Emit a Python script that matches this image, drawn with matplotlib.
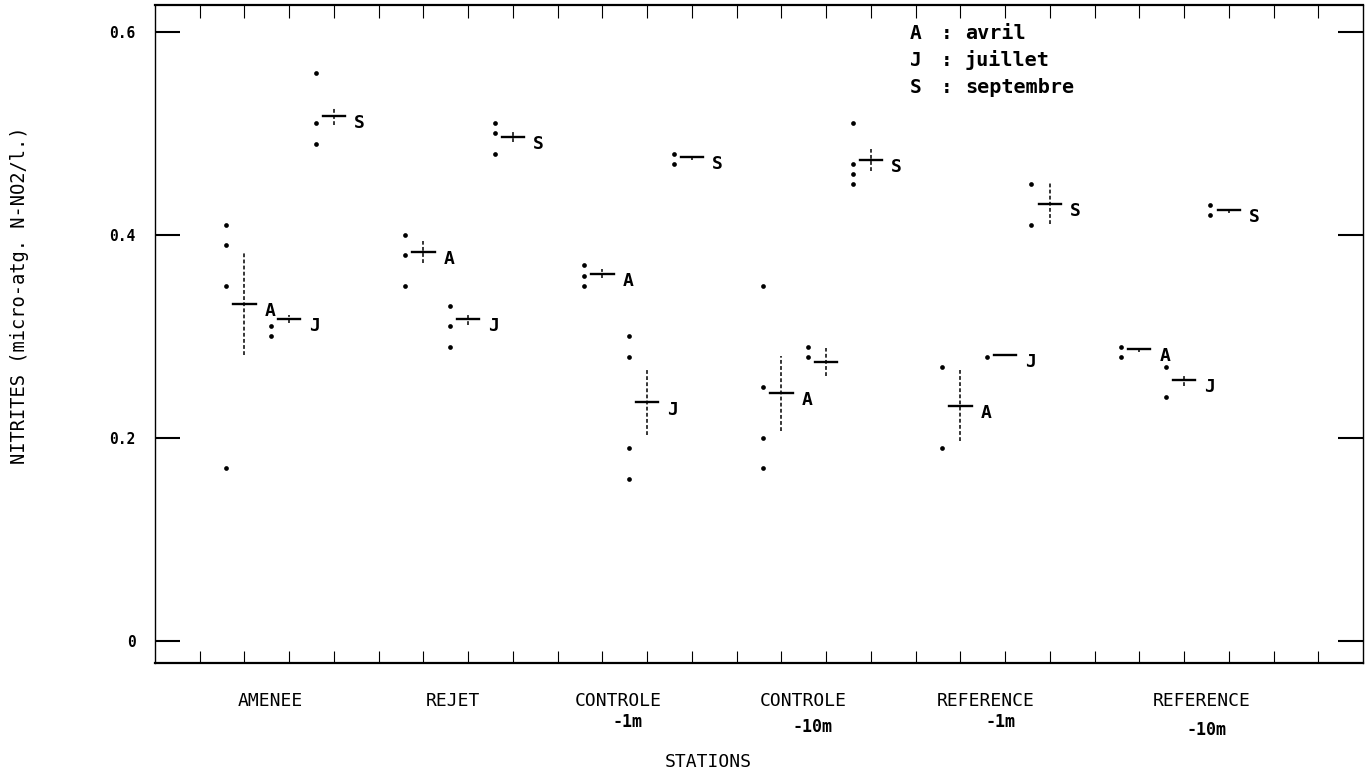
"""
Nitrites par station et par campagne (avril, juillet, septembre)
valeurs individuelles, moyenne et erreur standard
"""

import matplotlib.pyplot as plt
import numpy as np

# stations (two text lines) and campaigns
stations = ['AMENEE', 'REJET', 'CONTROLE', 'CONTROLE', 'REFERENCE', 'REFERENCE']
depths = ['', '', '-1m', '-10m', '-1m', '-10m']
months = ['A', 'J', 'S']
month_names = ['avril', 'juillet', 'septembre']

# individual samples (micro-atg. N-NO2/l.)
samples_A = [[0.41, 0.39, 0.35, 0.17], [0.40, 0.38, 0.35], [0.37, 0.36, 0.35],
             [0.35, 0.25, 0.20, 0.17], [0.27, 0.19], [0.29, 0.28]]
samples_J = [[0.31, 0.30], [0.33, 0.31, 0.29], [0.30, 0.28, 0.19, 0.16],
             [0.29, 0.28], [0.28], [0.27, 0.24]]
samples_S = [[0.56, 0.51, 0.49], [0.51, 0.50, 0.48], [0.48, 0.47],
             [0.51, 0.47, 0.46, 0.45], [0.45, 0.41], [0.43, 0.42]]

# means and standard errors
mean_A = [0.332, 0.383, 0.362, 0.244, 0.232, 0.288]
mean_J = [0.317, 0.317, 0.235, 0.275, 0.282, 0.257]
mean_S = [0.517, 0.497, 0.477, 0.474, 0.431, 0.425]
err_A = [0.050, 0.011, 0.004, 0.037, 0.035, 0.003]
err_J = [0.004, 0.006, 0.032, 0.014, 0.0, 0.006]
err_S = [0.009, 0.005, 0.003, 0.011, 0.020, 0.003]
# letter printed next to the mean? (missing on one group in the original)
labelled_J = [True, True, True, False, True, True]

samples = [samples_A, samples_J, samples_S]
means = [mean_A, mean_J, mean_S]
errs = [err_A, err_J, err_S]
labelled = [[True] * 6, labelled_J, [True] * 6]

# layout of the station names under the axis
name_x = [2.57, 6.67, 10.36, 14.5, 18.57, 23.4]
depth_x = [0, 0, 10.56, 14.7, 18.9, 23.5]
depth_y = [0, 0, -0.09, -0.097, -0.09, -0.102]

MONO = 'DejaVu Sans Mono'
plt.rcParams['font.family'] = MONO

fig = plt.figure(figsize=(13.69, 7.78), dpi=100)
ax = fig.add_axes([155/1369, 1 - 663/778, (1363 - 155)/1369, (663 - 5)/778])

for m in range(3):
    for k in range(6):
        xc = 4*k + 2 + m
        pts = samples[m][k]
        ax.plot([xc - 0.41]*len(pts), pts, 'o', color='black', ms=3.4, mew=0)
        ax.plot([xc - 0.25, xc + 0.25], [means[m][k]]*2, color='black', lw=1.7)
        if errs[m][k] > 0:
            ax.plot([xc, xc], [means[m][k] - errs[m][k], means[m][k] + errs[m][k]],
                    color='black', lw=1.1, ls=(0, (2.5, 1.5)))
        if labelled[m][k]:
            ax.text(xc + 0.45, means[m][k] - 0.007, months[m], fontsize=13,
                    fontweight='bold', ha='left', va='center')

# legend text, top right
for i in range(3):
    yy = 0.599 - 0.027*i
    ax.text(17.0, yy, months[i], fontsize=14, fontweight='bold', ha='center', va='center')
    ax.text(17.7, yy, ':', fontsize=14, fontweight='bold', ha='center', va='center')
    ax.text(18.1, yy, month_names[i], fontsize=14.5, fontweight='bold', ha='left', va='center')

ax.set_xlim(0, 27)
ax.set_ylim(-0.0217, 0.6266)
ax.set_xticks(np.arange(1, 27))
ax.set_yticks([0, 0.2, 0.4, 0.6])
ax.set_yticklabels(['0', '0.2', '0.4', '0.6'], fontweight='bold', fontsize=10.5)
ax.tick_params(axis='x', direction='in', length=9, width=0.8, top=True, labelbottom=False)
ax.tick_params(axis='y', direction='in', length=18, width=1.5, right=True, pad=14)

for side in ['top', 'bottom']:
    ax.spines[side].set_linewidth(1.6)
for side in ['left', 'right']:
    ax.spines[side].set_linewidth(1.0)
    ax.spines[side].set_linestyle((0, (3, 1)))

# station names under the axis
for k in range(6):
    ax.text(name_x[k], -0.058, stations[k], fontsize=13, ha='center', va='center',
            transform=ax.get_xaxis_transform())
    if depths[k]:
        ax.text(depth_x[k], depth_y[k], depths[k], fontsize=12, ha='center', va='center',
                fontweight='bold', transform=ax.get_xaxis_transform())

fig.text(708/1369, 1 - 762/778, 'STATIONS', fontsize=13, ha='center', va='center')
fig.text(20/1369, 1 - 295/778, 'NITRITES (micro-atg. N-NO2/l.)', fontsize=13.5,
         rotation=90, ha='center', va='center')

fig.savefig('out.png', dpi=100)
